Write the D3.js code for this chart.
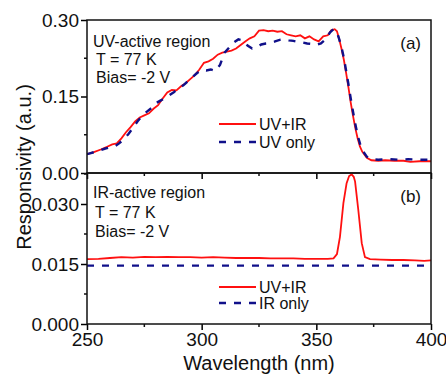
<!DOCTYPE html>
<html>
<head>
<meta charset="utf-8">
<script src="https://cdn.jsdelivr.net/npm/d3@7"></script>
<style>
  body { margin: 0; background: #fff; }
  svg text { font-family: "Liberation Sans", Arial, sans-serif; fill: #111; }
</style>
</head>
<body>
<div class="chart"></div>
<script>
// (a) UV-active region
var uvIrWl = [250, 253, 256, 259, 261, 263, 265, 267, 269, 271, 273, 275, 277, 279, 281, 283, 285, 287, 289, 291, 293, 295, 297, 299, 301, 303, 305, 307, 309, 311, 313, 315, 317, 319, 321, 323, 325, 327, 329, 331, 333, 335, 337, 339, 341, 343, 345, 347, 349, 351, 353, 355, 356.5, 358, 359, 360, 361, 362, 363, 364, 365, 366, 367, 368, 369, 370, 372, 374, 377, 380, 384, 388, 391, 395, 400];
var uvIrVal = [0.037, 0.041, 0.046, 0.052, 0.056, 0.058, 0.068, 0.080, 0.090, 0.101, 0.109, 0.113, 0.117, 0.126, 0.133, 0.146, 0.158, 0.163, 0.162, 0.170, 0.176, 0.184, 0.192, 0.203, 0.216, 0.219, 0.224, 0.232, 0.236, 0.238, 0.240, 0.244, 0.251, 0.258, 0.264, 0.268, 0.279, 0.280, 0.278, 0.279, 0.277, 0.278, 0.272, 0.270, 0.268, 0.270, 0.264, 0.268, 0.262, 0.258, 0.268, 0.270, 0.280, 0.282, 0.278, 0.262, 0.243, 0.222, 0.196, 0.168, 0.138, 0.112, 0.088, 0.068, 0.052, 0.042, 0.030, 0.025, 0.024, 0.025, 0.024, 0.024, 0.022, 0.023, 0.023];

var uvOnlyWl = [250, 254, 258, 262, 264, 266, 268, 270, 272, 274, 276, 278, 280, 282, 284, 286, 288, 290, 292, 294, 296, 298, 300, 302, 304, 306, 308, 310, 312, 314, 316, 318, 320, 322, 324, 326, 328, 330, 332, 334, 336, 338, 340, 342, 344, 346, 348, 350, 352, 354, 356, 357.5, 359, 360, 361, 362, 363, 364, 365, 366, 367, 368, 369, 370, 372, 374, 377, 382, 386, 390, 395, 400];
var uvOnlyVal = [0.037, 0.042, 0.048, 0.052, 0.058, 0.066, 0.076, 0.088, 0.101, 0.112, 0.120, 0.127, 0.137, 0.142, 0.147, 0.153, 0.159, 0.166, 0.172, 0.180, 0.188, 0.196, 0.202, 0.201, 0.203, 0.200, 0.212, 0.236, 0.246, 0.256, 0.262, 0.260, 0.250, 0.244, 0.246, 0.252, 0.254, 0.255, 0.258, 0.261, 0.262, 0.260, 0.259, 0.257, 0.256, 0.254, 0.253, 0.251, 0.254, 0.262, 0.276, 0.282, 0.276, 0.262, 0.246, 0.226, 0.200, 0.174, 0.146, 0.120, 0.096, 0.074, 0.058, 0.045, 0.032, 0.027, 0.026, 0.027, 0.026, 0.027, 0.026, 0.026];

// (b) IR-active region
var irUvWl = [250, 255, 260, 265, 270, 275, 280, 285, 290, 295, 300, 305, 310, 315, 320, 325, 330, 335, 340, 345, 350, 355, 357.5, 359, 360.3, 361.8, 363.2, 364.3, 365.4, 366.3, 366.9, 368.3, 369.8, 371.2, 373.4, 378, 383, 388, 393, 397, 400];
var irUvVal = [0.0162, 0.0163, 0.0165, 0.0167, 0.0166, 0.0168, 0.0167, 0.0168, 0.0167, 0.0167, 0.0166, 0.0167, 0.0166, 0.0165, 0.0165, 0.0165, 0.0164, 0.0164, 0.0164, 0.0163, 0.0163, 0.0163, 0.0164, 0.0175, 0.0218, 0.0302, 0.0352, 0.0370, 0.0374, 0.0368, 0.0356, 0.0285, 0.0202, 0.0167, 0.0162, 0.0161, 0.0160, 0.0160, 0.0159, 0.0158, 0.0159];

var irOnlyWl = [250, 325, 400];
var irOnlyVal = [0.0146, 0.0146, 0.0146];

var xTicks = [250, 300, 350, 400];
var xMinor = [275, 325, 375];
var yTicksA = [0, 0.15, 0.30];
var yMinorA = [0.075, 0.225];
var yTicksB = [0, 0.015, 0.030];
var yMinorB = [0.0075, 0.0225, 0.0375];

var width = 446, height = 377;
var left = 87, right = 431;

var svg = d3.select(".chart").append("svg")
    .attr("width", width)
    .attr("height", height);

var x = d3.scaleLinear().domain([250, 400]).range([left, right]);
var yA = d3.scaleLinear().domain([0, 0.30]).range([173, 20]);
var yB = d3.scaleLinear().domain([0, 0.03775]).range([324, 173]);

function zip(a, b) {
    return a.map(function (d, i) { return [d, b[i]]; });
}

function panel(y, ticks, minor, fmt, series, notes, tag, legend, showX) {
    var g = svg.append("g");
    var top = y.range()[1], bottom = y.range()[0];

    var clip = "clip" + tag;
    svg.append("clipPath").attr("id", clip).append("rect")
        .attr("x", left).attr("y", top).attr("width", right - left).attr("height", bottom - top);

    // curves
    series.forEach(function (s) {
        g.append("path")
            .datum(zip(s.wl, s.val))
            .attr("clip-path", "url(#" + clip + ")")
            .attr("fill", "none")
            .attr("stroke", s.color)
            .attr("stroke-width", s.dash ? 2.4 : 1.8)
            .attr("stroke-dasharray", s.dash || null)
            .attr("d", d3.line().x(function (d) { return x(d[0]); }).y(function (d) { return y(d[1]); }));
    });

    // y axis
    var ya = g.append("g").attr("transform", "translate(" + left + ",0)")
        .call(d3.axisLeft(y).tickValues(ticks).tickFormat(d3.format(fmt)).tickSize(6).tickPadding(2));
    ya.select(".domain").remove();
    ya.selectAll("text").style("font-size", "19px");
    ya.selectAll("line").attr("stroke-width", 1.5);
    g.selectAll(".ymin").data(minor).enter().append("line")
        .attr("x1", left - 3).attr("x2", left)
        .attr("y1", function (d) { return y(d); }).attr("y2", function (d) { return y(d); })
        .attr("stroke", "#111").attr("stroke-width", 1.5);

    // x axis ticks
    var xa = g.append("g").attr("transform", "translate(0," + bottom + ")")
        .call(d3.axisBottom(x).tickValues(xTicks).tickSize(6).tickPadding(3).tickFormat(showX ? d3.format("d") : ""));
    xa.select(".domain").remove();
    xa.selectAll("text").style("font-size", "19px");
    xa.selectAll("line").attr("stroke-width", 1.5);
    g.selectAll(".xmin").data(xMinor).enter().append("line")
        .attr("x1", function (d) { return x(d); }).attr("x2", function (d) { return x(d); })
        .attr("y1", bottom).attr("y2", bottom + 3)
        .attr("stroke", "#111").attr("stroke-width", 1.5);

    // frame
    g.append("rect")
        .attr("x", left).attr("y", top).attr("width", right - left).attr("height", bottom - top)
        .attr("fill", "none").attr("stroke", "#111").attr("stroke-width", 1.5);

    // notes
    notes.forEach(function (n) {
        g.append("text").attr("x", n[0]).attr("y", n[1]).style("font-size", "16px").text(n[2]);
    });
    g.append("text").attr("x", 421).attr("y", top + 29).attr("text-anchor", "end")
        .style("font-size", "17px").text("(" + tag + ")");

    // legend
    legend.forEach(function (l, i) {
        var ly = l.y;
        g.append("line").attr("x1", 219).attr("x2", 256).attr("y1", ly).attr("y2", ly)
            .attr("stroke", series[i].color)
            .attr("stroke-width", series[i].dash ? 2.4 : 1.8)
            .attr("stroke-dasharray", series[i].dash || null);
        g.append("text").attr("x", 259).attr("y", ly + 6).style("font-size", "16px").text(l.label);
    });
}

panel(yA, yTicksA, yMinorA, ".2f",
    [{wl: uvIrWl, val: uvIrVal, color: "#ff1010"},
     {wl: uvOnlyWl, val: uvOnlyVal, color: "#10108a", dash: "7,8"}],
    [[93, 47, "UV-active region"], [96, 65, "T = 77 K"], [96, 83, "Bias= -2 V"]],
    "a",
    [{y: 124, label: "UV+IR"}, {y: 142, label: "UV only"}],
    false);

panel(yB, yTicksB, yMinorB, ".3f",
    [{wl: irUvWl, val: irUvVal, color: "#ff1010"},
     {wl: irOnlyWl, val: irOnlyVal, color: "#10108a", dash: "7,8"}],
    [[93, 198, "IR-active region"], [95, 218, "T = 77 K"], [95, 237, "Bias= -2 V"]],
    "b",
    [{y: 287, label: "UV+IR"}, {y: 303, label: "IR only"}],
    true);

// axis titles
svg.append("text")
    .attr("x", (left + right) / 2).attr("y", 370)
    .attr("text-anchor", "middle")
    .style("font-size", "20px")
    .text("Wavelength (nm)");

svg.append("text")
    .attr("transform", "translate(31,167) rotate(-90)")
    .attr("text-anchor", "middle")
    .style("font-size", "20px")
    .text("Responsivity (a.u.)");
</script>
</body>
</html>
